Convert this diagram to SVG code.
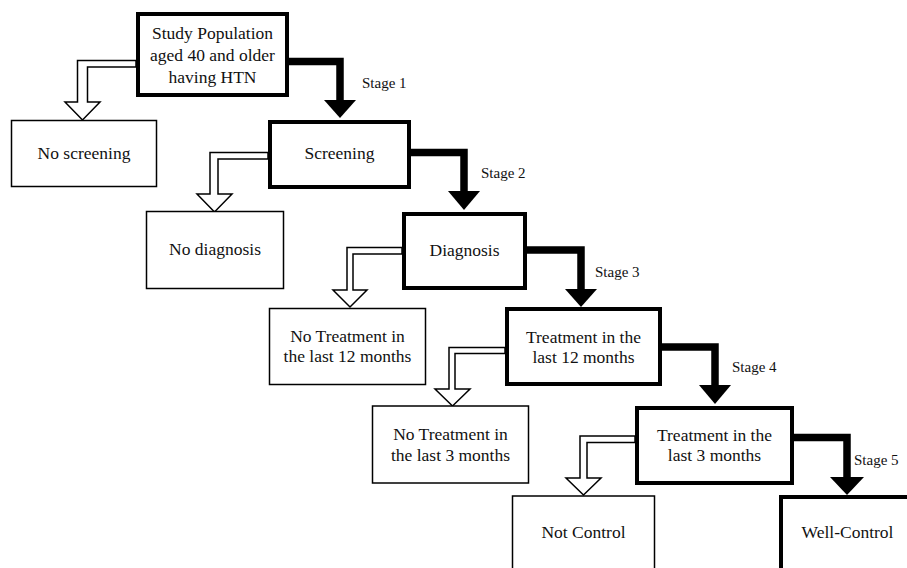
<svg xmlns="http://www.w3.org/2000/svg" width="907" height="568" viewBox="0 0 907 568">
<style>
.thick{fill:#fff;stroke:#000;stroke-width:4}
.thin{fill:#fff;stroke:#000;stroke-width:1.5}
.t{font-family:"Liberation Serif","Times New Roman",serif;font-size:17.5px;fill:#111;text-anchor:middle}
.s{font-family:"Liberation Serif","Times New Roman",serif;font-size:15px;fill:#111}
.shaft{fill:none;stroke:#000;stroke-width:7.5;stroke-linejoin:miter}
.head{fill:#000;stroke:none}
.hollow{fill:#fff;stroke:#000;stroke-width:1.5;stroke-linejoin:miter}
</style>
<rect width="907" height="568" fill="#fff"/>
<g id="connectors">
<path class="shaft" d="M289 61.5H340V101"/>
<polygon class="head" points="324,100 356,100 340,118"/>
<path class="shaft" d="M411 152.5H464V192"/>
<polygon class="head" points="448,191 480,191 464,210"/>
<path class="shaft" d="M527 250H581V290"/>
<polygon class="head" points="565,289 597,289 581,307"/>
<path class="shaft" d="M662 347H715V386"/>
<polygon class="head" points="699,385 731,385 715,404"/>
<path class="shaft" d="M794 437.5H847V478"/>
<polygon class="head" points="830,477 864,477 847,495"/>
<polygon class="hollow" points="136,60.5 77.5,60.5 77.5,102 65,102 82.5,120 100,102 87.5,102 87.5,67 136,67"/>
<polygon class="hollow" points="268,152.5 210,152.5 210,194 197,194 214.5,212 232,194 218,194 218,159 268,159"/>
<polygon class="hollow" points="402,247.5 347,247.5 347,290 333,290 350,307 367,290 353,290 353,254 402,254"/>
<polygon class="hollow" points="505,347.5 449,347.5 449,389 435,389 452.5,406 470,389 455,389 455,353.5 505,353.5"/>
<polygon class="hollow" points="635,436 580,436 580,478 566,478 583.5,495 601,478 587,478 587,442.5 635,442.5"/>
</g>
<g id="n1"><rect class="thick" x="138" y="14" width="149" height="81"/>
<text class="t" x="212.5" y="39">Study Population</text>
<text class="t" x="212.5" y="61">aged 40 and older</text>
<text class="t" x="212.5" y="83">having HTN</text></g>
<g id="n2"><rect class="thin" x="11.5" y="120.5" width="145" height="66"/>
<text class="t" x="84" y="159">No screening</text></g>
<g id="n3"><rect class="thick" x="270" y="122" width="139" height="65"/>
<text class="t" x="339.5" y="159">Screening</text></g>
<g id="n4"><rect class="thin" x="146.5" y="211.5" width="137" height="77"/>
<text class="t" x="215" y="255">No diagnosis</text></g>
<g id="n5"><rect class="thick" x="404" y="214" width="121" height="74"/>
<text class="t" x="464.5" y="256">Diagnosis</text></g>
<g id="n6"><rect class="thin" x="269.5" y="308.5" width="156" height="76"/>
<text class="t" x="347.5" y="342">No Treatment in</text>
<text class="t" x="347.5" y="362">the last 12 months</text></g>
<g id="n7"><rect class="thick" x="507" y="309" width="153" height="75"/>
<text class="t" x="583.5" y="342.5">Treatment in the</text>
<text class="t" x="583.5" y="363">last 12 months</text></g>
<g id="n8"><rect class="thin" x="372.5" y="406" width="156" height="77"/>
<text class="t" x="450.5" y="440">No Treatment in</text>
<text class="t" x="450.5" y="460.5">the last 3 months</text></g>
<g id="n9"><rect class="thick" x="637" y="408" width="155" height="75"/>
<text class="t" x="714.5" y="441">Treatment in the</text>
<text class="t" x="714.5" y="461">last 3 months</text></g>
<g id="n10"><rect class="thin" x="512.5" y="496" width="142" height="100"/>
<text class="t" x="583.5" y="538">Not Control</text></g>
<g id="n11"><rect class="thick" x="781" y="497" width="140" height="100"/>
<text class="t" x="847.5" y="538">Well-Control</text></g>
<g id="labels">
<text class="s" x="362" y="88">Stage 1</text>
<text class="s" x="481" y="178">Stage 2</text>
<text class="s" x="595" y="277">Stage 3</text>
<text class="s" x="732" y="372">Stage 4</text>
<text class="s" x="854" y="465">Stage 5</text>
</g>
</svg>
